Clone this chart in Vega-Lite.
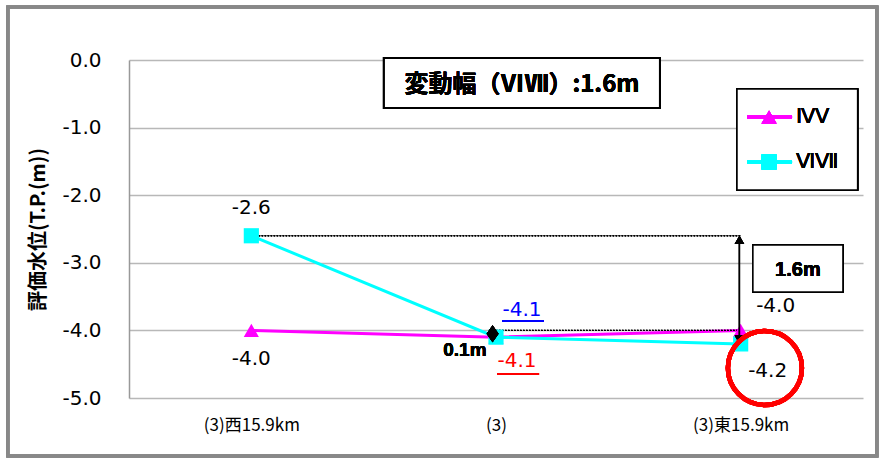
{
  "$schema": "https://vega.github.io/schema/vega-lite/v6.json",
  "width": 734,
  "height": 338,
  "autosize": {"type": "none"},
  "padding": {"left": 129, "top": 60, "right": 22, "bottom": 63},
  "background": "white",
  "config": {
    "view": {"stroke": null},
    "locale": {"number": {"decimal": ".", "thousands": ",", "grouping": [3], "currency": ["", ""], "minus": "-"}}
  },
  "data": {
    "values": [
      {"site": "(3)西15.9km", "idx": 0, "series": "ⅣⅤ", "value": -4.0},
      {"site": "(3)", "idx": 1, "series": "ⅣⅤ", "value": -4.1},
      {"site": "(3)東15.9km", "idx": 2, "series": "ⅣⅤ", "value": -4.0},
      {"site": "(3)西15.9km", "idx": 0, "series": "ⅥⅦ", "value": -2.6},
      {"site": "(3)", "idx": 1, "series": "ⅥⅦ", "value": -4.1},
      {"site": "(3)東15.9km", "idx": 2, "series": "ⅥⅦ", "value": -4.2}
    ]
  },
  "layer": [
    {
      "mark": {"type": "rect", "fill": null, "stroke": "#888888", "strokeWidth": 3},
      "encoding": {
        "x": {"datum": -0.995}, "x2": {"datum": 2.557},
        "y": {"datum": 0.784}, "y2": {"datum": -5.858}
      }
    },
    {
      "mark": {"type": "line", "strokeWidth": 3},
      "encoding": {
        "x": {"field": "idx", "type": "quantitative",
          "scale": {"domain": [-0.5, 2.5], "nice": false, "zero": false},
          "axis": {"values": [0, 1, 2], "labelExpr": "datum.value == 0 ? '(3)西15.9km' : datum.value == 1 ? '(3)' : '(3)東15.9km'",
            "grid": false, "domain": false, "ticks": false, "title": null,
            "labelFont": "Noto Sans CJK JP", "labelFontSize": 17, "labelColor": "#000000", "labelPadding": 19}},
        "y": {"field": "value", "type": "quantitative",
          "scale": {"domain": [-5, 0], "nice": false, "zero": false},
          "axis": {"values": [-5, -4, -3, -2, -1, 0], "format": ".1f",
            "labelFont": "DejaVu Sans", "labelFontSize": 20, "labelColor": "#000000", "labelPadding": 28,
            "ticks": false, "domain": true, "domainColor": "#999999", "domainWidth": 1.5,
            "grid": true, "gridColor": "#b8b8b8", "gridWidth": 1.5,
            "title": "評価水位(T.P.(m))", "titleFont": "Noto Sans CJK JP", "titleFontWeight": "bold", "titleFontSize": 20,
            "titleColor": "#000000", "titleAngle": 270, "titleX": -91, "titleY": 169, "titleAlign": "center", "titleBaseline": "middle"}},
        "color": {"field": "series", "type": "nominal", "scale": {"domain": ["ⅣⅤ", "ⅥⅦ"], "range": ["#FF00FF", "#00FFFF"]}, "legend": null},
        "order": {"field": "idx"}
      }
    },
    {
      "mark": {"type": "rule", "color": "#000000", "strokeWidth": 1, "strokeDash": [1.5, 1.5]},
      "encoding": {"x": {"datum": 0.03}, "x2": {"datum": 2}, "y": {"datum": -2.6}}
    },
    {
      "mark": {"type": "rule", "color": "#000000", "strokeWidth": 1, "strokeDash": [1.5, 1.5]},
      "encoding": {"x": {"datum": 1}, "x2": {"datum": 2}, "y": {"datum": -4.0}}
    },
    {
      "mark": {"type": "point", "filled": true, "opacity": 1, "size": 230},
      "encoding": {
        "x": {"field": "idx", "type": "quantitative"},
        "y": {"field": "value", "type": "quantitative"},
        "color": {"field": "series", "type": "nominal", "legend": null},
        "shape": {"field": "series", "type": "nominal", "scale": {"domain": ["ⅣⅤ", "ⅥⅦ"], "range": ["triangle-up", "square"]}, "legend": null}
      }
    },
    {
      "mark": {"type": "rule", "color": "#000000", "strokeWidth": 1.2},
      "encoding": {"x": {"datum": 1.995}, "y": {"datum": -2.62}, "y2": {"datum": -4.18}}
    },
    {
      "mark": {"type": "point", "shape": "triangle-up", "filled": true, "color": "#000000", "opacity": 1, "size": 90},
      "encoding": {"x": {"datum": 1.995}, "y": {"datum": -2.662}}
    },
    {
      "mark": {"type": "point", "shape": "triangle-down", "filled": true, "color": "#000000", "opacity": 1, "size": 90},
      "encoding": {"x": {"datum": 1.995}, "y": {"datum": -4.138}}
    },
    {
      "mark": {"type": "point", "shape": "M0,-1L0.7,0L0,1L-0.7,0Z", "filled": true, "color": "#000000", "opacity": 1, "size": 289},
      "encoding": {"x": {"datum": 0.986}, "y": {"datum": -4.05}}
    },
    {
      "transform": [{"filter": "datum.idx == 0 && datum.series == 'ⅥⅦ'"}],
      "mark": {"type": "text", "font": "DejaVu Sans", "fontSize": 20, "color": "#000000", "dy": -28, "baseline": "middle"},
      "encoding": {"x": {"field": "idx", "type": "quantitative"}, "y": {"field": "value", "type": "quantitative"}, "text": {"field": "value", "format": ".1f"}}
    },
    {
      "transform": [{"filter": "datum.idx == 0 && datum.series == 'ⅣⅤ'"}],
      "mark": {"type": "text", "font": "DejaVu Sans", "fontSize": 20, "color": "#000000", "dy": 29, "baseline": "middle"},
      "encoding": {"x": {"field": "idx", "type": "quantitative"}, "y": {"field": "value", "type": "quantitative"}, "text": {"field": "value", "format": ".1f"}}
    },
    {
      "transform": [{"filter": "datum.idx == 1 && datum.series == 'ⅥⅦ'"}],
      "mark": {"type": "text", "font": "DejaVu Sans", "fontSize": 20, "color": "#0000FF", "dx": 26, "dy": -27, "baseline": "middle"},
      "encoding": {"x": {"field": "idx", "type": "quantitative"}, "y": {"field": "value", "type": "quantitative"}, "text": {"field": "value", "format": ".1f"}}
    },
    {
      "transform": [{"filter": "datum.idx == 1 && datum.series == 'ⅣⅤ'"}],
      "mark": {"type": "text", "font": "DejaVu Sans", "fontSize": 20, "color": "#FF0000", "dx": 21, "dy": 24, "baseline": "middle"},
      "encoding": {"x": {"field": "idx", "type": "quantitative"}, "y": {"field": "value", "type": "quantitative"}, "text": {"field": "value", "format": ".1f"}}
    },
    {
      "transform": [{"filter": "datum.idx == 2 && datum.series == 'ⅣⅤ'"}],
      "mark": {"type": "text", "font": "DejaVu Sans", "fontSize": 20, "color": "#000000", "dx": 35, "dy": -24, "baseline": "middle"},
      "encoding": {"x": {"field": "idx", "type": "quantitative"}, "y": {"field": "value", "type": "quantitative"}, "text": {"field": "value", "format": ".1f"}}
    },
    {
      "transform": [{"filter": "datum.idx == 2 && datum.series == 'ⅥⅦ'"}],
      "mark": {"type": "text", "font": "DejaVu Sans", "fontSize": 20, "color": "#000000", "dx": 27, "dy": 27, "baseline": "middle"},
      "encoding": {"x": {"field": "idx", "type": "quantitative"}, "y": {"field": "value", "type": "quantitative"}, "text": {"field": "value", "format": ".1f"}}
    },
    {
      "mark": {"type": "rule", "color": "#0000FF", "strokeWidth": 1.5},
      "encoding": {"x": {"datum": 1.0245}, "x2": {"datum": 1.196}, "y": {"datum": -3.861}}
    },
    {
      "mark": {"type": "rule", "color": "#FF0000", "strokeWidth": 1.5},
      "encoding": {"x": {"datum": 1.004}, "x2": {"datum": 1.176}, "y": {"datum": -4.645}}
    },
    {
      "mark": {"type": "text", "font": "Liberation Sans", "fontWeight": "bold", "fontSize": 19, "color": "#000000", "baseline": "middle", "align": "center"},
      "encoding": {"x": {"datum": 0.873}, "y": {"datum": -4.29}, "text": {"value": "0.1m"}}
    },
    {
      "mark": {"type": "point", "shape": "circle", "filled": false, "stroke": "#FF0000", "strokeWidth": 4.5, "opacity": 1, "size": 5476},
      "encoding": {"x": {"datum": 2.099}, "y": {"datum": -4.556}}
    },
    {
      "mark": {"type": "rect", "fill": "#FFFFFF", "stroke": "#000000", "strokeWidth": 2},
      "encoding": {"x": {"datum": 0.542}, "x2": {"datum": 1.670}, "y": {"datum": 0.03}, "y2": {"datum": -0.71}}
    },
    {
      "mark": {"type": "text", "font": "Noto Sans CJK JP", "fontWeight": "bold", "fontSize": 24, "color": "#000000", "baseline": "middle", "align": "center"},
      "encoding": {"x": {"datum": 1.106}, "y": {"datum": -0.37}, "text": {"value": "変動幅（ⅥⅦ）:1.6m"}}
    },
    {
      "mark": {"type": "rect", "fill": "#FFFFFF", "stroke": "#000000", "strokeWidth": 1.5},
      "encoding": {"x": {"datum": 2.050}, "x2": {"datum": 2.418}, "y": {"datum": -2.737}, "y2": {"datum": -3.432}}
    },
    {
      "mark": {"type": "text", "font": "Liberation Sans", "fontWeight": "bold", "fontSize": 20, "color": "#000000", "baseline": "middle", "align": "center"},
      "encoding": {"x": {"datum": 2.234}, "y": {"datum": -3.107}, "text": {"value": "1.6m"}}
    },
    {
      "mark": {"type": "rect", "fill": "#FFFFFF", "stroke": "#000000", "strokeWidth": 1.5},
      "encoding": {"x": {"datum": 1.985}, "x2": {"datum": 2.478}, "y": {"datum": -0.43}, "y2": {"datum": -1.923}}
    },
    {
      "mark": {"type": "rule", "color": "#FF00FF", "strokeWidth": 3},
      "encoding": {"x": {"datum": 2.026}, "x2": {"datum": 2.210}, "y": {"datum": -0.843}}
    },
    {
      "mark": {"type": "rule", "color": "#00FFFF", "strokeWidth": 3},
      "encoding": {"x": {"datum": 2.026}, "x2": {"datum": 2.210}, "y": {"datum": -1.509}}
    },
    {
      "mark": {"type": "point", "shape": "triangle-up", "filled": true, "color": "#FF00FF", "opacity": 1, "size": 230},
      "encoding": {"x": {"datum": 2.116}, "y": {"datum": -0.843}}
    },
    {
      "mark": {"type": "point", "shape": "square", "filled": true, "color": "#00FFFF", "opacity": 1, "size": 230},
      "encoding": {"x": {"datum": 2.116}, "y": {"datum": -1.509}}
    },
    {
      "mark": {"type": "text", "font": "Liberation Serif", "fontSize": 21, "color": "#000000", "baseline": "middle", "align": "left"},
      "encoding": {"x": {"datum": 2.226}, "y": {"datum": -0.843}, "text": {"value": "ⅣⅤ"}}
    },
    {
      "mark": {"type": "text", "font": "Liberation Serif", "fontSize": 21, "color": "#000000", "baseline": "middle", "align": "left"},
      "encoding": {"x": {"datum": 2.226}, "y": {"datum": -1.509}, "text": {"value": "ⅥⅦ"}}
    }
  ]
}
